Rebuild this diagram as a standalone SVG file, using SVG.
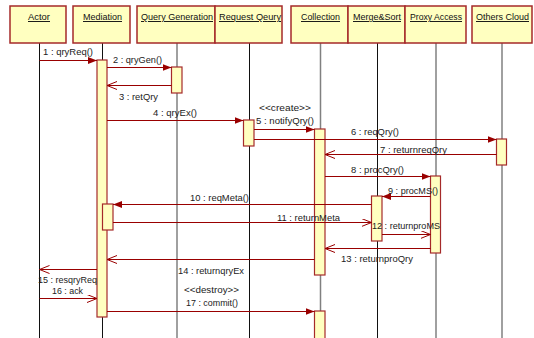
<svg xmlns="http://www.w3.org/2000/svg" width="534" height="338" viewBox="0 0 534 338">
<defs>
<style>
.hdr{fill:#FFFFC0;stroke:#A52A2A;stroke-width:1.5}
.htx{font-family:"Liberation Sans",Arial,sans-serif;font-size:9.5px;fill:#111;text-anchor:middle;text-decoration:underline}
.ll{stroke:#111;stroke-width:1;fill:none}
.llg{stroke:#808080;stroke-width:1.5;fill:none}
.act{fill:#FFFFC0;stroke:#A52A2A;stroke-width:1.2}
.msg{stroke:#990000;stroke-width:1;fill:none}
.f{marker-end:url(#fill)}
.o{marker-end:url(#open)}
.lbl{font-family:"Liberation Sans",Arial,sans-serif;font-size:9.5px;fill:#222}
</style>
<marker id="fill" markerUnits="userSpaceOnUse" markerWidth="10" markerHeight="8" refX="9" refY="3.5" orient="auto">
<path d="M0,0 L9,3.5 L0,7 z" fill="#990000"/>
</marker>
<marker id="open" markerUnits="userSpaceOnUse" markerWidth="12" markerHeight="10" refX="10" refY="4" orient="auto">
<path d="M0,0 L10,4 L0,8" fill="none" stroke="#990000" stroke-width="1"/>
</marker>
</defs>
<rect width="534" height="338" fill="#ffffff"/>

<g id="lifelines">
<line class="ll" x1="39.5" y1="43" x2="39.5" y2="338"/>
<line class="ll" x1="102.5" y1="43" x2="102.5" y2="338"/>
<line class="llg" x1="177" y1="43" x2="177" y2="338"/>
<line class="ll" x1="249.5" y1="43" x2="249.5" y2="338"/>
<line class="llg" x1="320.5" y1="43" x2="320.5" y2="338"/>
<line class="ll" x1="377.5" y1="43" x2="377.5" y2="338"/>
<line class="llg" x1="436" y1="43" x2="436" y2="338"/>
<line class="llg" x1="502" y1="43" x2="502" y2="338"/>
</g>

<g id="actor"><rect class="hdr" x="10" y="6" width="56" height="37"/><text class="htx" x="39" y="20" textLength="22" lengthAdjust="spacingAndGlyphs">Actor</text></g>
<g id="mediation"><rect class="hdr" x="73" y="6" width="57" height="37"/><text class="htx" x="102.5" y="20" textLength="39" lengthAdjust="spacingAndGlyphs">Mediation</text>
<rect class="act" x="97" y="60" width="10" height="257"/>
<rect class="act" x="102.5" y="204" width="10.5" height="26"/></g>
<g id="querygen"><rect class="hdr" x="137" y="6" width="78" height="37"/><text class="htx" x="177" y="20" textLength="72" lengthAdjust="spacingAndGlyphs">Query Generation</text>
<rect class="act" x="171.5" y="67" width="10.5" height="26"/></g>
<g id="requestqeury"><rect class="hdr" x="215" y="6" width="67" height="37"/><text class="htx" x="250" y="20" textLength="62" lengthAdjust="spacingAndGlyphs">Request Qeury</text>
<rect class="act" x="243.5" y="120" width="10.5" height="26"/></g>
<g id="collection"><rect class="hdr" x="291" y="6" width="57" height="37"/><text class="htx" x="320.5" y="20" textLength="39" lengthAdjust="spacingAndGlyphs">Collection</text>
<rect class="act" x="314.5" y="129" width="10.5" height="146"/>
<rect class="act" x="314.5" y="311" width="10.5" height="30"/></g>
<g id="mergesort"><rect class="hdr" x="348" y="6" width="57" height="37"/><text class="htx" x="377" y="20" textLength="48" lengthAdjust="spacingAndGlyphs">Merge&amp;Sort</text>
<rect class="act" x="371.5" y="196" width="10.5" height="45"/></g>
<g id="proxyaccess"><rect class="hdr" x="405" y="6" width="61" height="37"/><text class="htx" x="436" y="20" textLength="52" lengthAdjust="spacingAndGlyphs">Proxy Access</text>
<rect class="act" x="430.5" y="176" width="10" height="77"/></g>
<g id="otherscloud"><rect class="hdr" x="472" y="6" width="60" height="37"/><text class="htx" x="502.5" y="20" textLength="53" lengthAdjust="spacingAndGlyphs">Others Cloud</text>
<rect class="act" x="496.5" y="139" width="10" height="26"/></g>

<g id="connectors">
<line class="msg f" x1="39.5" y1="60.5" x2="97" y2="60.5"/>
<line class="msg f" x1="107" y1="67.5" x2="171.5" y2="67.5"/>
<line class="msg o" x1="171.5" y1="85.5" x2="107" y2="85.5"/>
<line class="msg f" x1="107" y1="120.5" x2="243.5" y2="120.5"/>
<line class="msg f" x1="254" y1="129.5" x2="314.5" y2="129.5"/>
<line class="msg f" x1="254" y1="139.5" x2="496.5" y2="139.5"/>
<line class="msg o" x1="496.5" y1="154.5" x2="325" y2="154.5"/>
<line class="msg f" x1="325" y1="176.5" x2="430.5" y2="176.5"/>
<line class="msg f" x1="430.5" y1="196.5" x2="382" y2="196.5"/>
<line class="msg f" x1="371.5" y1="204.5" x2="113" y2="204.5"/>
<line class="msg o" x1="113" y1="222.5" x2="371.5" y2="222.5"/>
<line class="msg o" x1="382" y1="234.5" x2="430.5" y2="234.5"/>
<line class="msg o" x1="430.5" y1="248.5" x2="325" y2="248.5"/>
<line class="msg o" x1="314.5" y1="259.5" x2="107" y2="259.5"/>
<line class="msg o" x1="97" y1="269.5" x2="39.5" y2="269.5"/>
<line class="msg o" x1="39.5" y1="298.5" x2="97" y2="298.5"/>
<line class="msg f" x1="107" y1="311.5" x2="314.5" y2="311.5"/>
</g>

<g id="labels">
<text class="lbl" x="43" y="55" textLength="50" lengthAdjust="spacingAndGlyphs">1 : qryReq()</text>
<text class="lbl" x="113" y="63" textLength="49" lengthAdjust="spacingAndGlyphs">2 : qryGen()</text>
<text class="lbl" x="119" y="100" textLength="39" lengthAdjust="spacingAndGlyphs">3 : retQry</text>
<text class="lbl" x="153" y="116" textLength="44" lengthAdjust="spacingAndGlyphs">4 : qryEx()</text>
<text class="lbl" x="259" y="111" textLength="52" lengthAdjust="spacingAndGlyphs">&lt;&lt;create&gt;&gt;</text>
<text class="lbl" x="256" y="124" textLength="58" lengthAdjust="spacingAndGlyphs">5 : notifyQry()</text>
<text class="lbl" x="351" y="135" textLength="48" lengthAdjust="spacingAndGlyphs">6 : reqQry()</text>
<text class="lbl" x="380" y="153" textLength="67" lengthAdjust="spacingAndGlyphs">7 : returnreqQry</text>
<text class="lbl" x="351" y="173" textLength="53" lengthAdjust="spacingAndGlyphs">8 : procQry()</text>
<text class="lbl" x="388" y="194" textLength="50" lengthAdjust="spacingAndGlyphs">9 : procMS()</text>
<text class="lbl" x="190" y="201" textLength="59" lengthAdjust="spacingAndGlyphs">10 : reqMeta()</text>
<text class="lbl" x="277" y="221" textLength="63" lengthAdjust="spacingAndGlyphs">11 : returnMeta</text>
<text class="lbl" x="372" y="229" textLength="68" lengthAdjust="spacingAndGlyphs">12 : returnproMS</text>
<text class="lbl" x="341" y="262" textLength="72" lengthAdjust="spacingAndGlyphs">13 : returnproQry</text>
<text class="lbl" x="178" y="274" textLength="66" lengthAdjust="spacingAndGlyphs">14 : returnqryEx</text>
<text class="lbl" x="38" y="283" textLength="59" lengthAdjust="spacingAndGlyphs">15 : resqryReq</text>
<text class="lbl" x="52" y="294" textLength="31" lengthAdjust="spacingAndGlyphs">16 : ack</text>
<text class="lbl" x="184" y="293" textLength="55" lengthAdjust="spacingAndGlyphs">&lt;&lt;destroy&gt;&gt;</text>
<text class="lbl" x="186" y="306" textLength="52" lengthAdjust="spacingAndGlyphs">17 : commit()</text>
</g>
</svg>
